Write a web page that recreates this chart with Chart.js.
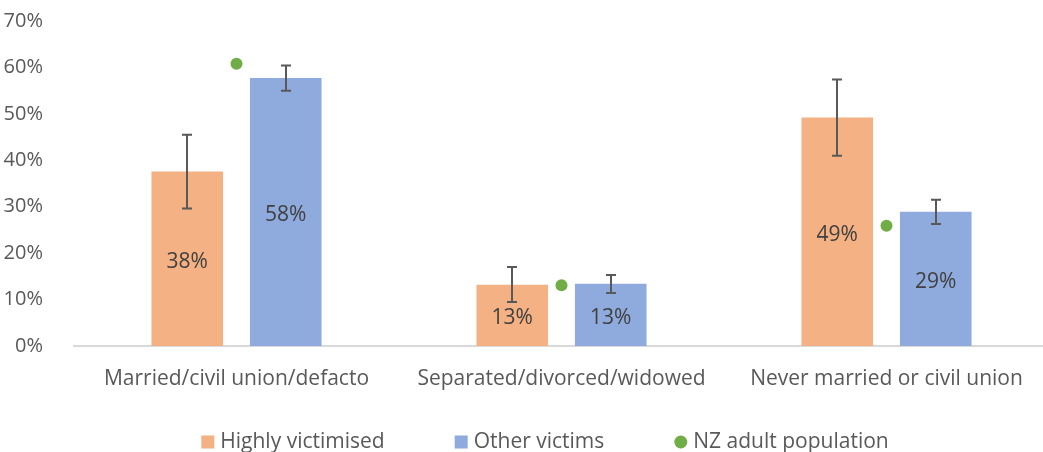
<!DOCTYPE html>
<html>
<head>
<meta charset="utf-8">
<script src="https://cdn.jsdelivr.net/npm/chart.js@4"></script>
<style>
  html, body { margin: 0; padding: 0; background: #fff; overflow: hidden; }
  #wrap { width: 1043px; height: 452px; overflow: hidden; }
</style>
</head>
<body>
<div id="wrap"><canvas id="myChart" width="1055" height="452"></canvas></div>
<script>
const categories = ['Married/civil union/defacto', 'Separated/divorced/widowed', 'Never married or civil union'];
const highlyVictimised = [37.6, 13.2, 49.2];
const highlyLow = [29.6, 9.5, 41.0];
const highlyHigh = [45.5, 17.0, 57.4];
const otherVictims = [57.7, 13.4, 28.9];
const otherLow = [55.0, 11.4, 26.3];
const otherHigh = [60.4, 15.3, 31.5];
const nzPopulation = [60.8, 13.1, 25.9];
const yTicks = [0, 10, 20, 30, 40, 50, 60, 70];

const errorRanges = { 0: [highlyLow, highlyHigh], 1: [otherLow, otherHigh] };

const fontFamily = '"Open Sans", "Noto Sans", sans-serif';
const textColor = '#595959';

const errorBars = {
  id: 'errorBars',
  afterDatasetsDraw(chart) {
    const ctx = chart.ctx;
    const y = chart.scales.y;
    ctx.save();
    ctx.strokeStyle = '#595959';
    ctx.lineWidth = 2;
    Object.keys(errorRanges).forEach(i => {
      const meta = chart.getDatasetMeta(+i);
      const [lo, hi] = errorRanges[i];
      meta.data.forEach((bar, j) => {
        const x = Math.round(bar.x);
        const y1 = y.getPixelForValue(lo[j]);
        const y2 = y.getPixelForValue(hi[j]);
        ctx.beginPath();
        ctx.moveTo(x, y1); ctx.lineTo(x, y2);
        ctx.moveTo(x - 5, y1); ctx.lineTo(x + 5, y1);
        ctx.moveTo(x - 5, y2); ctx.lineTo(x + 5, y2);
        ctx.stroke();
      });
    });
    ctx.restore();
  }
};

const barLabels = {
  id: 'barLabels',
  afterDraw(chart) {
    const ctx = chart.ctx;
    ctx.save();
    ctx.fillStyle = '#404040';
    ctx.font = '21px ' + fontFamily;
    ctx.textAlign = 'center';
    ctx.textBaseline = 'middle';
    [0, 1].forEach(i => {
      const meta = chart.getDatasetMeta(i);
      const values = chart.data.datasets[i].data;
      meta.data.forEach((bar, j) => {
        ctx.fillText(Math.round(values[j]) + '%', bar.x, (bar.y + bar.base) / 2 + 3);
      });
    });
    ctx.restore();
  }
};

// legend drawn by hand so the item spacing can follow the original
const bottomLegend = {
  id: 'bottomLegend',
  afterDraw(chart) {
    const ctx = chart.ctx;
    const items = chart.data.datasets.map(ds => ({ text: ds.label, color: ds.backgroundColor, style: ds.pointStyle }));
    ctx.save();
    ctx.font = '21px ' + fontFamily;
    ctx.textBaseline = 'middle';
    const box = 13, gapText = 6, gapItem = 70;
    const total = items.reduce((s, it) => s + box + gapText + ctx.measureText(it.text).width, 0) + gapItem * (items.length - 1);
    let x = 545 - total / 2;
    const y = 442;
    items.forEach(it => {
      ctx.fillStyle = it.color;
      if (it.style === 'circle') {
        ctx.beginPath();
        ctx.arc(x + box / 2, y, box / 2, 0, Math.PI * 2);
        ctx.fill();
      } else {
        ctx.fillRect(x, y - box / 2, box, box);
      }
      x += box + gapText;
      ctx.fillStyle = textColor;
      ctx.fillText(it.text, x, y);
      x += ctx.measureText(it.text).width + gapItem;
    });
    ctx.restore();
  }
};

new Chart(document.getElementById('myChart'), {
  type: 'bar',
  data: {
    labels: categories,
    datasets: [
      {
        label: 'Highly victimised',
        data: highlyVictimised,
        backgroundColor: '#f4b183',
        categoryPercentage: 0.606,
        barPercentage: 0.727,
        pointStyle: 'rect',
        order: 2
      },
      {
        label: 'Other victims',
        data: otherVictims,
        backgroundColor: '#8faadc',
        categoryPercentage: 0.606,
        barPercentage: 0.727,
        pointStyle: 'rect',
        order: 2
      },
      {
        type: 'line',
        label: 'NZ adult population',
        data: nzPopulation,
        showLine: false,
        pointStyle: 'circle',
        pointRadius: 6,
        pointBackgroundColor: '#70ad47',
        pointBorderWidth: 0,
        backgroundColor: '#70ad47',
        borderColor: '#70ad47',
        order: 1
      }
    ]
  },
  options: {
    responsive: false,
    animation: false,
    layout: { padding: { top: 21, right: 0, left: 0, bottom: 46 } },
    plugins: {
      tooltip: { enabled: false },
      legend: { display: false }
    },
    scales: {
      x: {
        grid: { display: false },
        border: { color: '#d9d9d9', width: 2 },
        ticks: { color: textColor, font: { family: fontFamily, size: 21 }, padding: 12, maxRotation: 0, autoSkip: false },
        afterFit(axis) {
          axis.height = 60;
          axis.paddingLeft = 0;
          axis.paddingRight = 0;
        }
      },
      y: {
        min: 0,
        max: 70,
        afterBuildTicks(axis) { axis.ticks = yTicks.map(v => ({ value: v })); },
        grid: { display: false },
        border: { display: false },
        ticks: {
          color: textColor,
          font: { family: fontFamily, size: 20 },
          padding: 23,
          callback: v => v + '%'
        },
        afterFit(axis) {
          axis.width = 74;
          axis.paddingTop = 0;
          axis.paddingBottom = 0;
        }
      }
    }
  },
  plugins: [errorBars, barLabels, bottomLegend]
});
</script>
</body>
</html>
